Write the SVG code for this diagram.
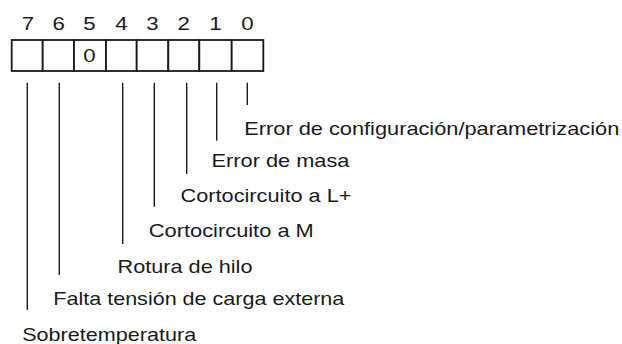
<svg xmlns="http://www.w3.org/2000/svg" width="622" height="344" viewBox="0 0 622 344">
<style>
text{font-family:"Liberation Sans",Arial,sans-serif;font-size:18.6px;fill:#1a1a1a}
.d{text-anchor:middle}
.cell{fill:#fff;stroke:#1a1a1a;stroke-width:1.8}
.ln{stroke:#1a1a1a;stroke-width:1.4;fill:none}
</style>
<rect width="622" height="344" fill="#fff"/>
<g id="register">
<rect class="cell" x="11.7" y="40" width="31" height="31"/>
<rect class="cell" x="42.7" y="40" width="31.3" height="31"/>
<rect class="cell" x="74" y="40" width="32" height="31"/>
<rect class="cell" x="106" y="40" width="30.7" height="31"/>
<rect class="cell" x="136.7" y="40" width="31.6" height="31"/>
<rect class="cell" x="168.3" y="40" width="31" height="31"/>
<rect class="cell" x="199.3" y="40" width="32.4" height="31"/>
<rect class="cell" x="231.7" y="40" width="31.6" height="31"/>
<text class="d" x="89.5" y="62" textLength="12.4" lengthAdjust="spacingAndGlyphs">0</text>
</g>
<g id="bit-numbers">
<text class="d" x="28" y="29.5" textLength="12.4" lengthAdjust="spacingAndGlyphs">7</text>
<text class="d" x="58.7" y="29.5" textLength="12.4" lengthAdjust="spacingAndGlyphs">6</text>
<text class="d" x="89.5" y="29.5" textLength="12.4" lengthAdjust="spacingAndGlyphs">5</text>
<text class="d" x="121.4" y="29.5" textLength="12.4" lengthAdjust="spacingAndGlyphs">4</text>
<text class="d" x="152.5" y="29.5" textLength="12.4" lengthAdjust="spacingAndGlyphs">3</text>
<text class="d" x="183.8" y="29.5" textLength="12.4" lengthAdjust="spacingAndGlyphs">2</text>
<text class="d" x="215.5" y="29.5" textLength="12.4" lengthAdjust="spacingAndGlyphs">1</text>
<text class="d" x="247.5" y="29.5" textLength="12.4" lengthAdjust="spacingAndGlyphs">0</text>
</g>
<g id="connectors">
<line class="ln" x1="247.3" y1="82.7" x2="247.3" y2="105"/>
<line class="ln" x1="216.7" y1="82.7" x2="216.7" y2="140.7"/>
<line class="ln" x1="186.7" y1="82.7" x2="186.7" y2="174"/>
<line class="ln" x1="154.3" y1="82.7" x2="154.3" y2="206.7"/>
<line class="ln" x1="122.7" y1="82.7" x2="122.7" y2="244"/>
<line class="ln" x1="59.3" y1="82.7" x2="59.3" y2="275"/>
<line class="ln" x1="27.3" y1="82.7" x2="27.3" y2="310"/>
</g>
<g id="labels">
<text id="bit0" x="244.3" y="135" textLength="375" lengthAdjust="spacingAndGlyphs">Error de configuración/parametrización</text>
<text id="bit1" x="211.5" y="167.3" textLength="138" lengthAdjust="spacingAndGlyphs">Error de masa</text>
<text id="bit2" x="180.5" y="201.7" textLength="171" lengthAdjust="spacingAndGlyphs">Cortocircuito a L+</text>
<text id="bit3" x="148.8" y="236.7" textLength="165" lengthAdjust="spacingAndGlyphs">Cortocircuito a M</text>
<text id="bit4" x="117.5" y="273.3" textLength="135" lengthAdjust="spacingAndGlyphs">Rotura de hilo</text>
<text id="bit6" x="53.3" y="305" textLength="291" lengthAdjust="spacingAndGlyphs">Falta tensión de carga externa</text>
<text id="bit7" x="22.2" y="340.7" textLength="174" lengthAdjust="spacingAndGlyphs">Sobretemperatura</text>
</g>
</svg>
